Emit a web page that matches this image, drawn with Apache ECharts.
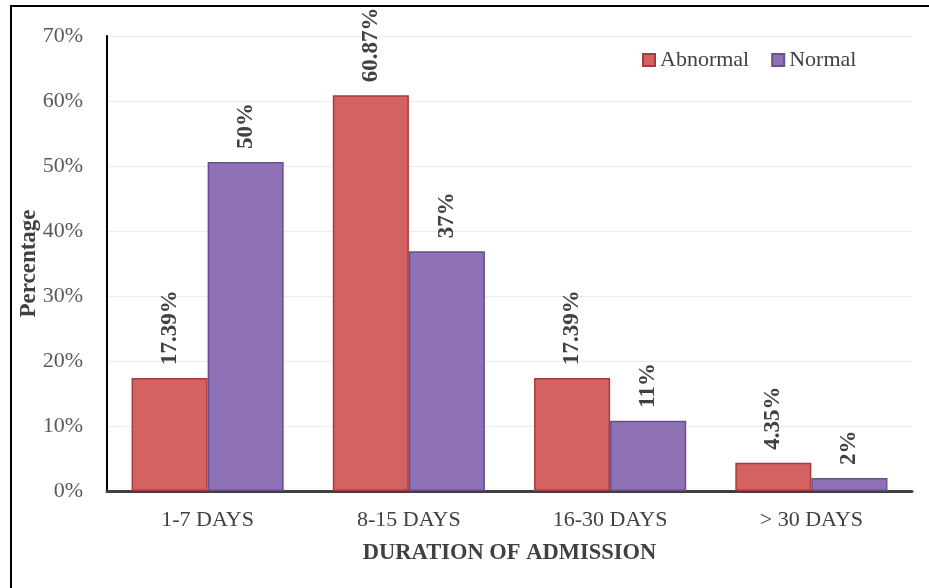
<!DOCTYPE html>
<html>
<head>
<meta charset="utf-8">
<script src="https://cdn.jsdelivr.net/npm/echarts@6/dist/echarts.min.js"></script>
<style>
html,body{margin:0;padding:0;background:#fff;overflow:hidden;}
#frame{position:absolute;left:10px;top:5px;width:960px;height:620px;border-left:2px solid #000;border-top:2px solid #000;box-sizing:border-box;}
#chart{position:absolute;left:0;top:0;width:929px;height:588px;}
</style>
</head>
<body>
<div id="frame"></div>
<div id="chart"></div>
<script>
const categories = ['1-7 DAYS', '8-15 DAYS', '16-30 DAYS', '> 30 DAYS'];
const abnormalValues = [17.39, 60.87, 17.39, 4.35];
const normalValues = [50.6, 36.9, 10.8, 2.0];
const abnormalLabels = ['17.39%', '60.87%', '17.39%', '4.35%'];
const normalLabels = ['50%', '37%', '11%', '2%'];
const yTicks = [0, 10, 20, 30, 40, 50, 60, 70];

const font = 'Liberation Serif';
const chart = echarts.init(document.getElementById('chart'), null, {renderer: 'canvas'});

function labelCfg(texts) {
  return {
    show: true,
    position: 'top',
    rotate: 90,
    align: 'left',
    verticalAlign: 'middle',
    distance: 13,
    fontFamily: font,
    fontWeight: 'bold',
    fontSize: 23,
    color: '#404040',
    formatter: p => texts[p.dataIndex]
  };
}

chart.setOption({
  animation: false,
  backgroundColor: 'transparent',
  grid: {left: 107, right: 17, top: 36, bottom: 97, containLabel: false},
  legend: {
    left: 642, top: 49, padding: 0,
    icon: 'rect',
    itemWidth: 12, itemHeight: 12, itemGap: 22,
    textStyle: {fontFamily: font, fontSize: 22, color: '#404040'},
    data: ['Abnormal', 'Normal']
  },
  xAxis: {
    type: 'category',
    data: categories,
    name: 'DURATION OF ADMISSION',
    nameLocation: 'middle',
    nameGap: 51,
    nameMoveOverlap: false,
    nameTextStyle: {fontFamily: font, fontWeight: 'bold', fontSize: 22.5, color: '#404040'},
    axisLine: {show: true, lineStyle: {color: '#404040', width: 3}},
    axisTick: {show: false},
    axisLabel: {fontFamily: font, fontSize: 22, color: '#404040', margin: 18}
  },
  yAxis: {
    type: 'value',
    min: yTicks[0], max: yTicks[yTicks.length - 1], interval: 10,
    name: 'Percentage',
    nameLocation: 'middle',
    nameGap: 66,
    nameMoveOverlap: false,
    nameTextStyle: {fontFamily: font, fontWeight: 'bold', fontSize: 23, color: '#404040'},
    axisLine: {show: true, lineStyle: {color: '#000', width: 2}},
    axisTick: {show: false},
    axisLabel: {fontFamily: font, fontSize: 22, color: '#595959', margin: 24, formatter: v => v + '%'},
    splitLine: {show: true, lineStyle: {color: '#ececec', width: 1}}
  },
  series: [
    {
      name: 'Abnormal', type: 'bar', data: abnormalValues,
      barGap: '0%', barCategoryGap: '24.4%',
      itemStyle: {color: '#d46262', borderColor: '#a83a3a', borderWidth: 1.5},
      label: labelCfg(abnormalLabels)
    },
    {
      name: 'Normal', type: 'bar', data: normalValues,
      barGap: '0%', barCategoryGap: '24.4%',
      itemStyle: {color: '#8f72b5', borderColor: '#694f8f', borderWidth: 1.5},
      label: labelCfg(normalLabels)
    }
  ]
});
</script>
</body>
</html>
